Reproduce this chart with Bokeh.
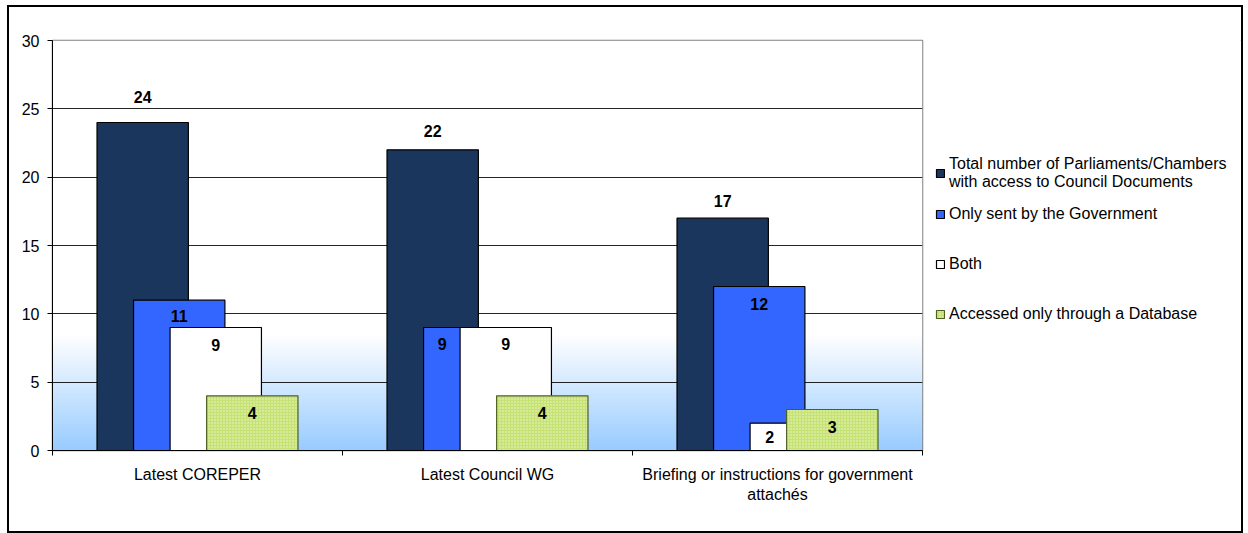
import numpy as np
from bokeh.plotting import figure
from bokeh.layouts import row
from bokeh.models import FixedTicker, Legend, LegendItem, ColumnDataSource, Range1d
from bokeh.core.properties import value
from bokeh.embed import file_html
from bokeh.resources import INLINE

# ---------------- data ----------------
categories = ["Latest COREPER", "Latest Council WG",
              "Briefing or instructions for government\nattachés"]
series_names = ["Total number of Parliaments/Chambers\nwith access to Council Documents",
                "Only sent by the Government", "Both",
                "Accessed only through a Database"]
total = [24, 22, 17]
only_gov = [11, 9, 12]
both = [9, 9, 2]
database = [4, 4, 3]
y_ticks = [0, 5, 10, 15, 20, 25, 30]

# ---------------- style ----------------
FONT = "Liberation Sans"
FS = "16px"
colors = ["#1A365D", "#3366FF", "#FFFFFF", "#C6E274"]
bar_w = 0.315
step = 0.126
# pixel nudges of the value labels
label_dx = [[0, 0, 0], [0, -27, 0], [0, 0, -26], [0, 0, 0]]
label_dy = [[-26, -19, -17], [16, 16, 17], [17, 16, 14], [17, 17, 17]]

H = 524
p = figure(width=926, height=H, output_backend="svg", toolbar_location=None,
           x_range=Range1d(0, 3), y_range=Range1d(0, 30),
           min_border_left=43, min_border_right=13, min_border_top=33,
           min_border_bottom=81)
p.outline_line_color = "#808080"
p.outline_line_width = 1.5

# gradient background of the plot area
n = 300
vals = np.linspace(0, 30, n)
t = np.clip((8.4 - vals) / 8.4, 0, 1)
bottom = np.array([0x99, 0xCC, 0xFF])
rgb = (255 * (1 - t)[:, None] + bottom[None, :] * t[:, None]).astype(np.uint32)
img = (255 << 24) | (rgb[:, 2] << 16) | (rgb[:, 1] << 8) | rgb[:, 0]
img = img.reshape(n, 1).astype(np.uint32)
p.image_rgba(image=[img], x=0, y=0, dw=3, dh=30, level="image")

# grid
p.xgrid.visible = False
p.ygrid.ticker = FixedTicker(ticks=y_ticks[1:-1])
p.ygrid.grid_line_color = "#000000"
p.ygrid.grid_line_width = 1
p.ygrid.grid_line_alpha = 0.85

# axes
p.yaxis.ticker = FixedTicker(ticks=y_ticks)
p.yaxis.axis_line_color = "#000000"
p.yaxis.major_tick_line_color = "#000000"
p.yaxis.major_tick_out = 5
p.yaxis.major_tick_in = 0
p.yaxis.minor_tick_line_color = None
p.yaxis.major_label_standoff = 8
p.yaxis.major_label_text_font = FONT
p.yaxis.major_label_text_font_size = FS
p.yaxis.major_label_text_color = "#000000"

centers = [i + 0.5 for i in range(len(categories))]
p.xaxis.ticker = FixedTicker(ticks=centers, minor_ticks=list(range(len(categories) + 1)))
p.xaxis.major_label_overrides = {c: lab for c, lab in zip(centers, categories)}
p.xaxis.axis_line_color = "#000000"
p.xaxis.major_tick_line_color = None
p.xaxis.major_tick_out = 0
p.xaxis.major_tick_in = 0
p.xaxis.minor_tick_line_color = "#000000"
p.xaxis.minor_tick_out = 5
p.xaxis.minor_tick_in = 0
p.xaxis.major_label_standoff = 10
p.xaxis.major_label_text_font = FONT
p.xaxis.major_label_text_font_size = FS
p.xaxis.major_label_text_color = "#000000"

series = [total, only_gov, both, database]


def bar_style(k):
    kw = dict(fill_color=colors[k], line_color="#000000", line_width=1.2)
    if k == 3:
        kw.update(hatch_pattern="dot", hatch_color="#EEF8CC", hatch_scale=3,
                  hatch_weight=1.2, line_color="#4F5F22")
    return kw


for k, vals_k in enumerate(series):
    xs = [c + (k - 1.5) * step for c in centers]
    src = ColumnDataSource(dict(x=xs, top=vals_k))
    p.vbar(x="x", top="top", bottom=0, width=bar_w, source=src, **bar_style(k))

for k, vals_k in enumerate(series):
    xs = [c + (k - 1.5) * step for c in centers]
    src = ColumnDataSource(dict(x=xs, y=vals_k, lab=[str(v) for v in vals_k],
                                dx=label_dx[k], dy=label_dy[k]))
    p.text(x="x", y="y", text="lab", source=src, x_offset="dx", y_offset="dy",
           text_align="center", text_baseline="middle",
           text_font=value(FONT), text_font_style="bold",
           text_font_size=FS, text_color="#000000")

# ---------------- legend panel ----------------
pl = figure(width=306, height=H, output_backend="svg", toolbar_location=None,
            x_range=Range1d(0, 1), y_range=Range1d(0, 1),
            x_axis_location=None, y_axis_location=None,
            min_border_left=0, min_border_right=0, min_border_top=0,
            min_border_bottom=0)
pl.grid.visible = False
pl.outline_line_color = None
items = []
for k in range(len(series_names)):
    # legend proxies, kept off-canvas (outside both ranges)
    r = pl.vbar(x=[50], top=[60], bottom=50, width=0.1, **bar_style(k))
    items.append(LegendItem(label=series_names[k], renderers=[r]))

leg_kw = dict(margin=0, padding=0, glyph_width=10, glyph_height=10,
              label_standoff=4, label_text_font=FONT, label_text_font_size=FS,
              label_text_color="#000000", border_line_color=None,
              background_fill_alpha=0, label_height=18,
              label_text_line_height=1.1)
legend_a = Legend(items=items[:1], location=(0, 259), spacing=0, **leg_kw)
legend_b = Legend(items=items[1:], location=(0, 127), spacing=32, **leg_kw)
pl.add_layout(legend_a)
pl.add_layout(legend_b)

layout = row(p, pl, spacing=0)
layout.styles = {"border": "2px solid black", "margin-left": "7px", "margin-top": "5px",
                 "width": "1236px", "height": "528px"}

open("out.html", "w").write(file_html(layout, INLINE))
